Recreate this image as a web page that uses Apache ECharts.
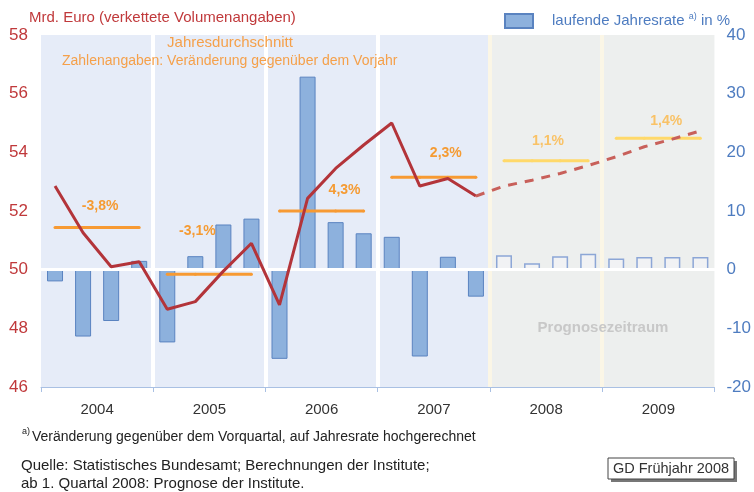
<!DOCTYPE html>
<html>
<head>
<meta charset="utf-8">
<script src="https://cdn.jsdelivr.net/npm/echarts@6/dist/echarts.min.js"></script>
<style>
  html, body { margin: 0; padding: 0; background: #fff; }
  #chart { width: 754px; height: 492px; }
</style>
</head>
<body>
<div id="chart"></div>
<script>
var years = ['2004', '2005', '2006', '2007', '2008', '2009'];
var quarters = ['Q1', 'Q2', 'Q3', 'Q4'];
// Mrd. Euro, verkettete Volumenangaben (left axis)
var gdpActual = [52.85, 51.26, 50.1, 50.27, 48.65, 48.91, 49.95, 50.9,
                 48.8, 52.43, 53.45, 54.25, 55.0, 52.85, 53.11, 52.51];
// forecast, starting at 2007 Q4 so the line joins
var gdpForecast = [52.51, 52.85, 53.05, 53.28, 53.55, 53.85, 54.19, 54.45, 54.73];
// laufende Jahresrate in % (right axis)
var annualRate = [-2.0, -11.4, -8.75, 1.5, -12.4, 2.3, 7.7, 8.7,
                  -15.2, 32.9, 8.1, 6.2, 5.6, -14.8, 2.2, -4.6,
                  2.45, 1.1, 2.3, 2.7, 1.9, 2.15, 2.15, 2.15];
var yearAvg = [51.44, 49.84, 52.0, 53.15, 53.71, 54.48];
var yearAvgLabels = ['-3,8%', '-3,1%', '4,3%', '2,3%', '1,1%', '1,4%'];
var leftTicks = [46, 48, 50, 52, 54, 56, 58];
var rightTicks = [-20, -10, 0, 10, 20, 30, 40];
var firstForecastYear = 4;

var quarterCats = [];
years.forEach(function (y) {
  quarters.forEach(function (q) { quarterCats.push(y + ' ' + q); });
});
var nQ = quarterCats.length;
var fcStart = firstForecastYear * 4;

// label nudges for the yearly averages (pixels, relative to the Q2 point)
var avgLabelOffset = [[17, -21], [2, -43], [37, -21], [26, -24], [16, -20], [22, -17]];

var chart = echarts.init(document.getElementById('chart'));

var series = [];

series.push({
  name: 'laufende Jahresrate',
  type: 'bar',
  xAxisIndex: 0,
  yAxisIndex: 1,
  barWidth: 16,
  z: 2,
  itemStyle: { color: '#8DB1DD', borderColor: '#5A83C0', borderWidth: 1 },
  data: annualRate.map(function (v, i) {
    if (i < fcStart) return v;
    return { value: v, itemStyle: { color: '#F1F2F4', borderColor: '#8CA6D6', borderWidth: 1.5 } };
  })
});

years.forEach(function (y, k) {
  var fc = k >= firstForecastYear;
  var col = fc ? '#FFD96A' : '#F79A33';
  var data = [];
  for (var i = 0; i < nQ; i++) {
    if (Math.floor(i / 4) !== k) { data.push(null); continue; }
    if (i % 4 === 1) {
      data.push({
        value: yearAvg[k],
        label: {
          show: true,
          position: 'inside',
          formatter: yearAvgLabels[k],
          offset: avgLabelOffset[k],
          color: fc ? '#F9C266' : '#F59B33',
          fontSize: 14,
          fontWeight: 'bold',
          fontFamily: 'Liberation Sans'
        }
      });
    } else {
      data.push(yearAvg[k]);
    }
  }
  series.push({
    name: 'avg' + y,
    type: 'line',
    xAxisIndex: 0,
    yAxisIndex: 0,
    symbol: 'circle',
    symbolSize: 3,
    showSymbol: true,
    z: 4,
    lineStyle: { color: col, width: 3 },
    itemStyle: { color: col },
    data: data,
    silent: true
  });
});

series.push({
  name: 'gdp',
  type: 'line',
  xAxisIndex: 0,
  yAxisIndex: 0,
  symbol: 'none',
  z: 5,
  lineStyle: { color: '#B3343A', width: 3 },
  data: gdpActual.concat(new Array(nQ - gdpActual.length).fill(null))
});

series.push({
  name: 'gdpForecast',
  type: 'line',
  xAxisIndex: 0,
  yAxisIndex: 0,
  symbol: 'none',
  z: 5,
  lineStyle: { color: '#C8605A', width: 3, type: [9, 8] },
  data: new Array(fcStart - 1).fill(null).concat(gdpForecast)
});

var option = {
  animation: false,
  textStyle: { fontFamily: 'Liberation Sans' },
  grid: { left: 41, right: 33, top: 35, bottom: 105 },
  legend: {
    data: ['laufende Jahresrate'],
    left: 499,
    top: 7,
    itemWidth: 28,
    itemHeight: 14,
    icon: 'rect',
    formatter: function (n) { return n + ' {sup|a)} in %'; },
    textStyle: {
      color: '#4E7CC0',
      fontSize: 15,
      padding: [0, 0, 0, 14],
      rich: {
        sup: { fontSize: 9, color: '#4E7CC0', padding: [0, 0, 9, 0] }
      }
    }
  },
  xAxis: [
    {
      type: 'category',
      data: quarterCats,
      position: 'bottom',
      boundaryGap: true,
      z: 3,
      axisLine: { onZero: true, onZeroAxisIndex: 1, lineStyle: { color: '#FFFFFF', width: 3 } },
      axisTick: { show: false },
      axisLabel: { show: false },
      splitLine: { show: false }
    },
    {
      type: 'category',
      data: years,
      position: 'bottom',
      boundaryGap: true,
      axisLine: { onZero: false, lineStyle: { color: '#A9C0E3', width: 1 } },
      axisTick: { show: true, length: 5, lineStyle: { color: '#A9C0E3' } },
      axisLabel: { color: '#333', fontSize: 15, margin: 15 },
      splitLine: {
        show: true,
        lineStyle: {
          width: 4,
          color: ['rgba(0,0,0,0)', '#FFFFFF', '#FFFFFF', '#FFFFFF', '#FBF6E6', '#FBF6E6', 'rgba(0,0,0,0)']
        }
      },
      splitArea: {
        show: true,
        areaStyle: { color: ['#E6ECF8', '#E6ECF8', '#E6ECF8', '#E6ECF8', '#EDEFEE', '#EDEFEE'] }
      }
    }
  ],
  yAxis: [
    {
      type: 'value',
      position: 'left',
      min: leftTicks[0],
      max: leftTicks[leftTicks.length - 1],
      interval: leftTicks[1] - leftTicks[0],
      axisLine: { show: false },
      axisTick: { show: false },
      splitLine: { show: false },
      axisLabel: { color: '#C0393B', fontSize: 17, margin: 13 }
    },
    {
      type: 'value',
      position: 'right',
      min: rightTicks[0],
      max: rightTicks[rightTicks.length - 1],
      interval: rightTicks[1] - rightTicks[0],
      axisLine: { show: false },
      axisTick: { show: false },
      splitLine: { show: false },
      axisLabel: { color: '#4E7CC0', fontSize: 17, margin: 12 }
    }
  ],
  graphic: [
    { type: 'text', x: 29, y: 18, style: { text: 'Mrd. Euro (verkettete Volumenangaben)', fill: '#C0393B', font: '15px "Liberation Sans"', verticalAlign: 'middle' } },
    { type: 'text', x: 230, y: 43, z: 10, style: { text: 'Jahresdurchschnitt', fill: '#F5A04A', font: '15px "Liberation Sans"', align: 'center', verticalAlign: 'middle' } },
    { type: 'text', x: 62, y: 61, z: 10, style: { text: 'Zahlenangaben: Veränderung gegenüber dem Vorjahr', fill: '#F5A04A', font: '14px "Liberation Sans"', verticalAlign: 'middle' } },
    { type: 'text', x: 603, y: 328, z: 10, style: { text: 'Prognosezeitraum', fill: '#C8C8C8', font: 'bold 15px "Liberation Sans"', align: 'center', verticalAlign: 'middle' } },
    { type: 'text', x: 22, y: 432, style: { text: 'a)', fill: '#222', font: '9px "Liberation Sans"', verticalAlign: 'middle' } },
    { type: 'text', x: 32, y: 437, style: { text: 'Veränderung gegenüber dem Vorquartal, auf Jahresrate hochgerechnet', fill: '#222', font: '14px "Liberation Sans"', verticalAlign: 'middle' } },
    { type: 'text', x: 21, y: 466, style: { text: 'Quelle: Statistisches Bundesamt; Berechnungen der Institute;', fill: '#222', font: '15px "Liberation Sans"', verticalAlign: 'middle' } },
    { type: 'text', x: 21, y: 484, style: { text: 'ab 1. Quartal 2008: Prognose der Institute.', fill: '#222', font: '15px "Liberation Sans"', verticalAlign: 'middle' } },
    { type: 'rect', shape: { x: 611, y: 461, width: 126, height: 21 }, style: { fill: '#777' } },
    { type: 'rect', shape: { x: 608, y: 458, width: 126, height: 21 }, style: { fill: '#fff', stroke: '#444', lineWidth: 1 } },
    { type: 'text', x: 671, y: 469, style: { text: 'GD Frühjahr 2008', fill: '#333', font: '14.5px "Liberation Sans"', align: 'center', verticalAlign: 'middle' } }
  ],
  series: series
};

chart.setOption(option);
</script>
</body>
</html>
